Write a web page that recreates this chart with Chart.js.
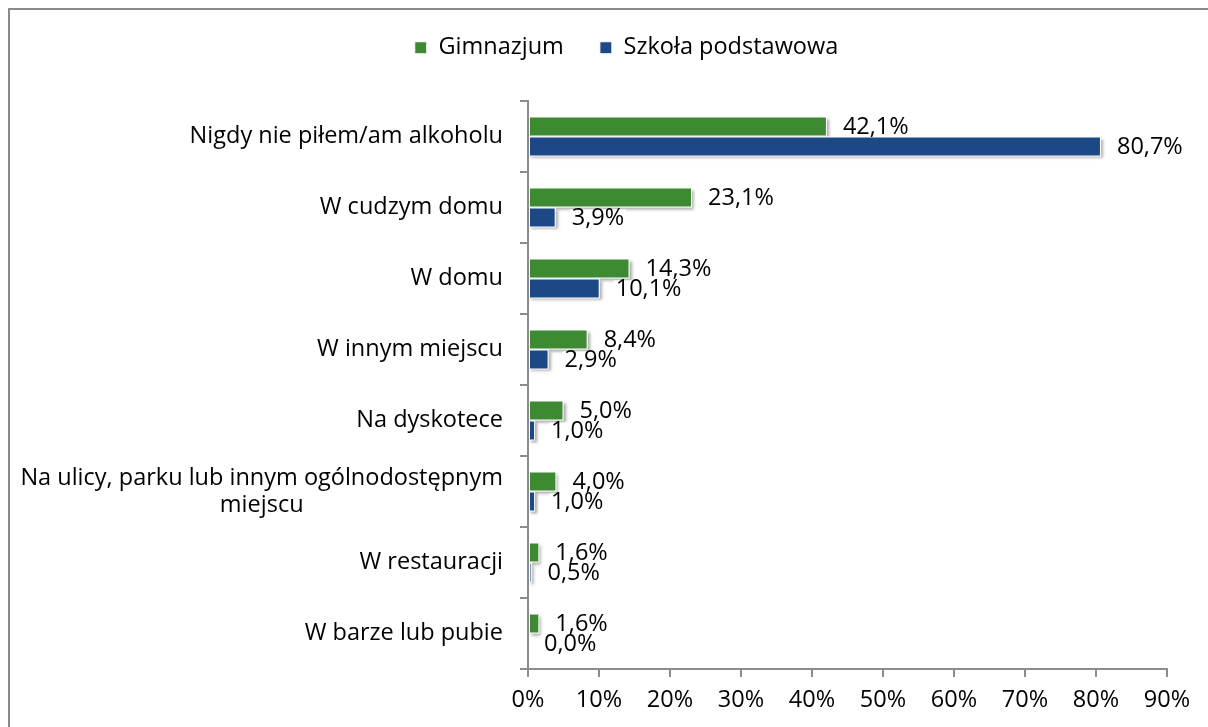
<!DOCTYPE html>
<html>
<head>
<meta charset="utf-8">
<script src="https://cdn.jsdelivr.net/npm/chart.js@4.4.0/dist/chart.umd.min.js"></script>
<style>
  html, body { margin: 0; padding: 0; background: #fff; }
  #wrap { width: 1208px; height: 727px; position: relative; }
</style>
</head>
<body>
<div id="wrap"><canvas id="chart"></canvas></div>
<script>
const categories = [
  'Nigdy nie piłem/am alkoholu',
  'W cudzym domu',
  'W domu',
  'W innym miejscu',
  'Na dyskotece',
  ['Na ulicy, parku lub innym ogólnodostępnym', 'miejscu'],
  'W restauracji',
  'W barze lub pubie'
];
const gimnazjum = [42.1, 23.1, 14.3, 8.4, 5.0, 4.0, 1.6, 1.6];
const szkolaPodstawowa = [80.7, 3.9, 10.1, 2.9, 1.0, 1.0, 0.5, 0.0];
const seriesNames = ['Gimnazjum', 'Szkoła podstawowa'];
const xMin = 0, xMax = 90, xStep = 10;

const FONT = '"Open Sans", sans-serif';
const TXT = 23.5;
const GREEN = '#3d8a32';
const BLUE = '#1d4886';
const AXIS = '#8c8c8c';

Chart.defaults.font.family = FONT;
Chart.defaults.color = '#000';

// grey frame at top/left, like the exported picture
const framePlugin = {
  id: 'frame',
  beforeDraw(chart) {
    const ctx = chart.ctx;
    ctx.save();
    ctx.fillStyle = '#8a8a8a';
    ctx.fillRect(8, 8, chart.width - 8, 2);
    ctx.fillRect(8, 8, 2, chart.height - 8);
    ctx.restore();
  },
  // legend in the original sits a bit right of centre
  afterLayout(chart) {
    if (chart.legend) {
      chart.legend.left += 43;
      chart.legend.right += 43;
    }
  }
};

// soft drop shadow under every bar
const shadowPlugin = {
  id: 'barShadow',
  beforeDatasetsDraw(chart) {
    const ctx = chart.ctx;
    ctx.save();
    ctx.shadowColor = 'rgba(0,0,0,0.35)';
    ctx.shadowBlur = 3;
    ctx.shadowOffsetX = 2;
    ctx.shadowOffsetY = 2;
    ctx.fillStyle = '#fff';
    chart.data.datasets.forEach((ds, i) => {
      chart.getDatasetMeta(i).data.forEach(bar => {
        const p = bar.getProps(['x', 'y', 'base', 'height'], true);
        const w = Math.abs(p.x - p.base);
        if (w < 1) return;
        ctx.fillRect(Math.min(p.x, p.base), p.y - p.height / 2, w, p.height);
      });
    });
    ctx.restore();
  }
};

// value labels and centred category labels
const labelPlugin = {
  id: 'labels',
  afterDatasetsDraw(chart) {
    const ctx = chart.ctx;
    ctx.save();
    ctx.font = `${TXT}px ${FONT}`;
    ctx.textBaseline = 'middle';
    chart.data.datasets.forEach((ds, i) => {
      chart.getDatasetMeta(i).data.forEach((bar, j) => {
        const txt = ds.data[j].toFixed(1).replace('.', ',') + '%';
        const tx = bar.x + 16;
        const w = ctx.measureText(txt).width;
        ctx.fillStyle = '#fff';
        ctx.fillRect(tx - 2, bar.y - 8, w + 4, 17);
        ctx.fillStyle = '#000';
        ctx.textAlign = 'left';
        ctx.fillText(txt, tx, bar.y + 1);
      });
    });

    const ys = chart.scales.y;
    ctx.textAlign = 'center';
    ctx.fillStyle = '#000';
    categories.forEach((lab, i) => {
      const lines = Array.isArray(lab) ? lab : [lab];
      const w = Math.max(...lines.map(l => ctx.measureText(l).width));
      const cx = ys.right - 25 - w / 2;
      const cy = ys.getPixelForValue(i);
      lines.forEach((l, k) => ctx.fillText(l, cx, cy + (k - (lines.length - 1) / 2) * 27));
    });
    ctx.restore();
  }
};

new Chart(document.getElementById('chart'), {
  type: 'bar',
  data: {
    labels: categories,
    datasets: [
      { label: seriesNames[0], data: gimnazjum, backgroundColor: GREEN, borderColor: '#fff', borderWidth: 1, borderSkipped: false },
      { label: seriesNames[1], data: szkolaPodstawowa, backgroundColor: BLUE, borderColor: '#fff', borderWidth: 1, borderSkipped: false }
    ]
  },
  options: {
    indexAxis: 'y',
    responsive: true,
    maintainAspectRatio: false,
    animation: false,
    categoryPercentage: 0.56,
    barPercentage: 1,
    layout: { padding: { top: 0, right: 41, left: 0, bottom: 0 } },
    plugins: {
      legend: {
        position: 'top',
        labels: { boxWidth: 12, boxHeight: 12, padding: 36, font: { size: TXT }, color: '#000' }
      },
      tooltip: { enabled: false }
    },
    scales: {
      x: {
        min: xMin, max: xMax,
        ticks: { stepSize: xStep, callback: v => v + '%', padding: 9, font: { size: TXT }, color: '#000', maxRotation: 0 },
        grid: { drawOnChartArea: false, drawTicks: true, tickLength: 8, color: AXIS, lineWidth: 2 },
        border: { color: AXIS, width: 2 },
        afterFit: s => { s.height = 58; }
      },
      y: {
        ticks: { display: false },
        grid: { drawOnChartArea: false, tickLength: 8, color: AXIS, lineWidth: 2 },
        border: { color: AXIS, width: 2 },
        afterFit: s => { s.width = 528; }
      },
      spacer: {
        type: 'linear', axis: 'x', position: 'top', display: true,
        grid: { display: false }, border: { display: false }, ticks: { display: false },
        afterFit: s => { s.height = 31.5; }
      }
    }
  },
  plugins: [framePlugin, shadowPlugin, labelPlugin]
});
</script>
</body>
</html>
